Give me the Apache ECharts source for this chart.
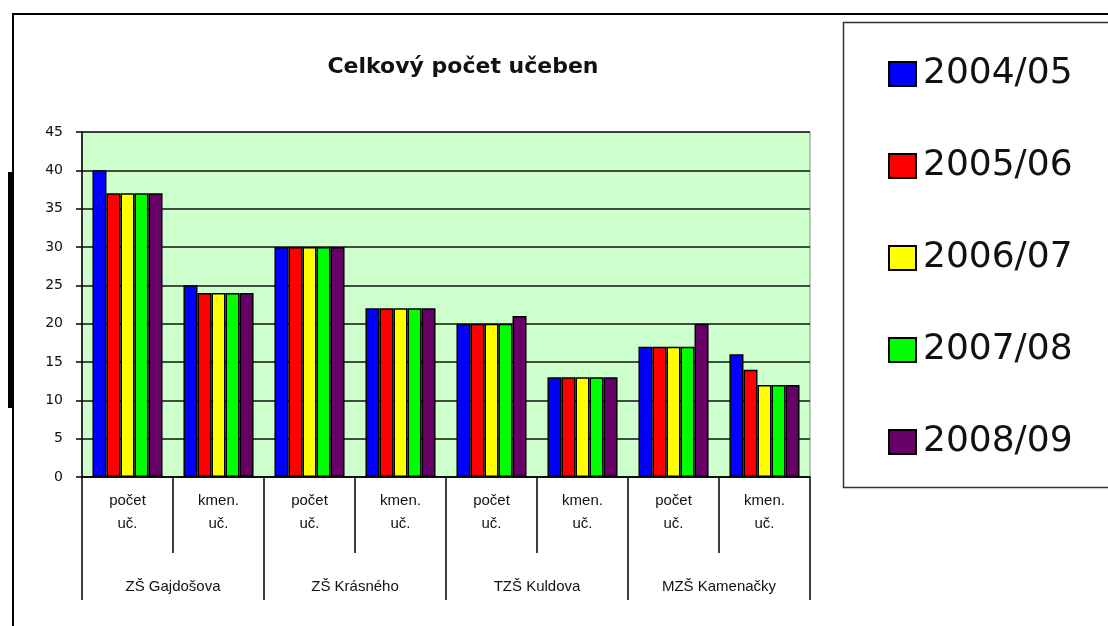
<!DOCTYPE html>
<html>
<head>
<meta charset="utf-8">
<script src="https://cdn.jsdelivr.net/npm/echarts@6/dist/echarts.min.js"></script>
<style>
html,body{margin:0;padding:0;background:#fff;}
#c{width:1108px;height:626px;}
</style>
</head>
<body>
<div id="c"></div>
<script>
var subCategories = ['počet\nuč.', 'kmen.\nuč.', 'počet\nuč.', 'kmen.\nuč.', 'počet\nuč.', 'kmen.\nuč.', 'počet\nuč.', 'kmen.\nuč.'];
var schools = ['ZŠ Gajdošova', 'ZŠ Krásného', 'TZŠ Kuldova', 'MZŠ Kamenačky'];
var seriesNames = ['2004/05', '2005/06', '2006/07', '2007/08', '2008/09'];
var seriesColors = ['#0000FF', '#FF0000', '#FFFF00', '#00FF00', '#660066'];
var v2004 = [40, 25, 30, 22, 20, 13, 17, 16];
var v2005 = [37, 24, 30, 22, 20, 13, 17, 14];
var v2006 = [37, 24, 30, 22, 20, 13, 17, 12];
var v2007 = [37, 24, 30, 22, 20, 13, 17, 12];
var v2008 = [37, 24, 30, 22, 21, 13, 20, 12];
var yTicks = [0, 5, 10, 15, 20, 25, 30, 35, 40, 45];

var values = [v2004, v2005, v2006, v2007, v2008];
var font = '"Liberation Sans", Arial, sans-serif';
var wideFont = '"DejaVu Sans", sans-serif';

var chart = echarts.init(document.getElementById('c'));
var series = seriesNames.map(function (n, i) {
  return {
    name: n,
    type: 'bar',
    xAxisIndex: 0,
    data: values[i],
    barGap: '0%',
    barCategoryGap: '23%',
    itemStyle: { color: seriesColors[i], borderColor: '#000', borderWidth: 1.5 },
    emphasis: { disabled: true }
  };
});

chart.setOption({
  animation: false,
  backgroundColor: '#fff',
  title: {
    text: 'Celkový počet učeben',
    left: 458,
    textAlign: 'center',
    top: 51,
    textStyle: { fontFamily: wideFont, fontSize: 22, fontWeight: 'bold', color: '#111' }
  },
  legend: {
    orient: 'vertical',
    left: 883,
    top: 51,
    itemWidth: 27,
    itemHeight: 24,
    itemGap: 56,
    icon: 'rect',
    data: seriesNames,
    textStyle: { fontFamily: wideFont, fontSize: 36, color: '#111', lineHeight: 36, padding: [0, 0, 0, 2] }
  },
  grid: {
    left: 82, right: 298, top: 132, bottom: 149,
    show: true, backgroundColor: '#CCFFCC', borderColor: '#888', borderWidth: 1
  },
  xAxis: [
    {
      type: 'category',
      data: subCategories,
      position: 'bottom',
      axisLine: { lineStyle: { color: '#000', width: 1.5 } },
      axisTick: { show: true, interval: 0, length: 76, lineStyle: { color: '#000', width: 1.5 } },
      axisLabel: { interval: 0, margin: 12, fontFamily: font, fontSize: 15, color: '#111', lineHeight: 23 }
    },
    {
      type: 'category',
      data: schools,
      position: 'bottom',
      axisLine: { show: false },
      axisTick: { show: true, interval: 0, length: 123, lineStyle: { color: '#000', width: 1.5 } },
      axisLabel: { interval: 0, margin: 102, fontFamily: font, fontSize: 15, color: '#111' }
    }
  ],
  yAxis: {
    type: 'value',
    min: 0, max: 45, interval: 5,
    axisLine: { show: true, lineStyle: { color: '#000', width: 1.5 } },
    axisTick: { show: true, length: 6, lineStyle: { color: '#000', width: 1.5 } },
    splitLine: { show: true, lineStyle: { color: '#111', width: 1.5 } },
    axisLabel: { margin: 19, fontFamily: wideFont, fontSize: 14, color: '#111',
      formatter: function (v) { return yTicks.indexOf(v) >= 0 ? String(v) : ''; } }
  },
  series: series,
  graphic: [
    { type: 'line', shape: { x1: 12, y1: 14, x2: 1108, y2: 14 }, style: { stroke: '#000', lineWidth: 2 } },
    { type: 'line', shape: { x1: 13, y1: 14, x2: 13, y2: 626 }, style: { stroke: '#000', lineWidth: 2 } },
    { type: 'rect', shape: { x: 8, y: 172, width: 5, height: 236 }, style: { fill: '#000' } },
    { type: 'rect', shape: { x: 843.5, y: 22.5, width: 280, height: 465 }, style: { fill: 'none', stroke: '#333', lineWidth: 1.5 }, z: -1 }
  ]
});
</script>
</body>
</html>
